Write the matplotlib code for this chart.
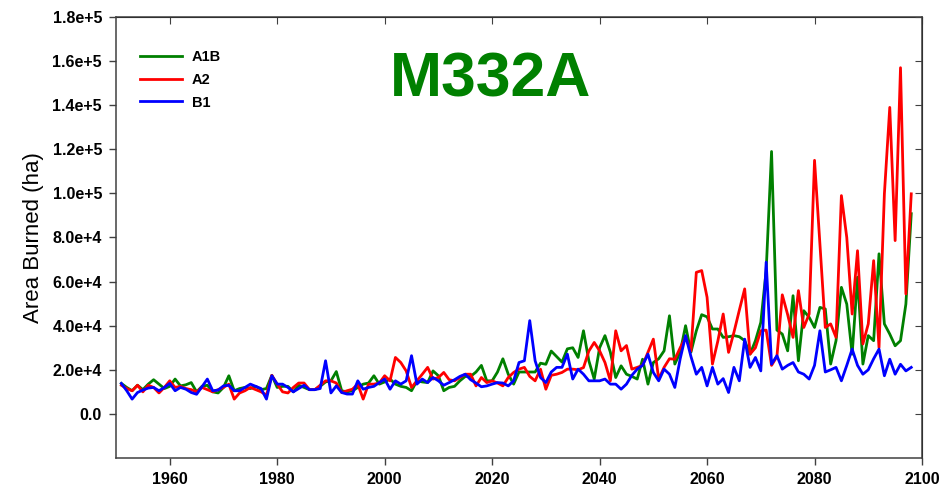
import numpy as np
import matplotlib
matplotlib.use("Agg")
import matplotlib.pyplot as plt
from matplotlib.ticker import FuncFormatter

plt.rcParams['font.family'] = ['Liberation Sans', 'DejaVu Sans']

# years of the simulation
years = np.arange(1951, 2099)

# area burned, thousands of ha (one row per decade)
a1b = [
    13.8, 12.0, 10.5, 13.0, 11.0, 13.5, 15.5, 13.5, 11.5, 12.5,
    15.8, 12.7, 13.2, 14.2, 10.0, 12.5, 13.0, 10.0, 9.5, 12.0,
    17.3, 10.5, 11.5, 12.0, 11.5, 12.5, 11.0, 11.5, 17.5, 12.0,
    12.5, 12.5, 10.0, 13.0, 12.0, 11.0, 11.0, 12.5, 14.5, 15.0,
    19.2, 10.5, 10.0, 10.5, 12.0, 13.5, 14.0, 17.3, 13.5, 14.5,
    15.8, 13.5, 12.5, 12.0, 10.5, 15.0, 14.5, 14.2, 19.5, 17.3,
    10.5, 12.0, 12.5, 15.0, 17.0, 17.0, 19.0, 22.0, 15.0, 15.0,
    19.0, 25.0, 18.0, 13.5, 19.0, 19.0, 19.0, 19.0, 23.0, 22.5,
    28.5, 26.0, 23.5, 29.5, 30.0, 25.6, 37.7, 24.1, 15.8, 30.0,
    35.5, 28.0, 16.5, 21.8, 18.0, 17.0, 15.8, 24.8, 13.5, 23.3,
    25.0, 28.6, 44.5, 22.6, 28.0, 40.0, 28.0, 37.7, 45.0, 44.0,
    38.5, 38.5, 34.7, 35.0, 35.5, 35.0, 33.2, 27.1, 33.2, 41.5,
    65.0, 119.0, 38.0, 36.2, 28.6, 53.6, 24.1, 46.8, 43.8, 39.2,
    48.3, 47.6, 22.6, 33.2, 57.4, 49.8, 27.1, 62.0, 22.6, 35.5,
    33.2, 72.6, 40.8, 36.2, 30.9, 33.2, 49.8, 90.8,
]

a2 = [
    13.0, 11.5, 10.5, 13.0, 10.0, 13.0, 12.0, 9.5, 12.0, 15.0,
    12.0, 12.5, 11.5, 11.0, 10.0, 12.0, 11.0, 10.0, 11.0, 12.0,
    13.5, 6.7, 9.5, 10.5, 12.0, 11.0, 10.0, 8.5, 17.5, 13.5,
    10.0, 9.5, 12.0, 14.0, 14.0, 11.0, 11.0, 13.0, 15.0, 15.0,
    14.0, 9.7, 10.5, 11.2, 13.5, 6.7, 13.5, 13.5, 14.0, 17.3,
    15.0, 25.6, 23.3, 19.5, 12.0, 15.0, 18.0, 21.1, 15.8, 16.5,
    18.8, 15.5, 15.0, 16.5, 18.0, 18.0, 12.7, 16.5, 14.2, 15.0,
    14.0, 12.7, 16.5, 18.8, 20.3, 21.1, 17.0, 15.0, 20.3, 11.2,
    17.5, 18.0, 18.8, 20.3, 20.3, 20.0, 21.0, 28.5, 32.4, 28.6,
    23.3, 15.0, 37.7, 28.6, 31.0, 20.3, 21.1, 22.0, 28.0, 33.9,
    15.8, 21.1, 25.0, 24.8, 30.0, 34.7, 28.6, 64.2, 65.0, 52.9,
    22.6, 33.0, 45.3, 27.9, 37.0, 47.0, 56.7, 27.1, 30.0, 37.7,
    38.0, 22.0, 26.0, 54.0, 45.0, 34.7, 55.9, 39.2, 45.3, 115.0,
    77.0, 39.2, 40.8, 34.7, 99.0, 80.0, 45.3, 74.0, 31.7, 40.8,
    69.5, 30.1, 99.8, 139.0, 78.6, 157.0, 54.4, 99.8,
]

b1 = [
    13.8, 10.5, 6.7, 9.7, 10.8, 11.7, 12.0, 10.5, 12.0, 13.8,
    10.5, 12.0, 11.2, 9.7, 8.9, 12.3, 15.8, 10.5, 10.8, 12.7,
    13.0, 10.5, 10.5, 12.0, 13.5, 12.5, 11.5, 6.7, 17.3, 13.5,
    13.5, 12.0, 10.0, 11.5, 13.0, 11.0, 11.0, 11.5, 24.1, 9.5,
    12.7, 9.7, 9.0, 9.0, 15.0, 11.2, 12.0, 12.5, 14.2, 15.8,
    11.2, 15.0, 13.5, 15.0, 26.4, 13.5, 15.8, 14.2, 16.5, 15.0,
    13.0, 14.2, 15.5, 17.0, 18.0, 15.5, 14.0, 12.3, 12.7, 13.5,
    14.2, 14.0, 12.7, 15.0, 23.3, 24.1, 42.3, 24.1, 16.5, 14.2,
    19.0, 21.1, 21.1, 27.1, 15.8, 20.3, 18.0, 15.0, 15.0, 15.0,
    15.8, 13.5, 13.5, 11.2, 13.5, 17.5, 20.3, 22.0, 27.1, 18.8,
    15.0, 20.3, 18.0, 12.0, 25.0, 35.5, 26.0, 18.0, 21.1, 12.7,
    21.1, 13.5, 16.0, 9.7, 21.1, 15.0, 33.9, 21.1, 25.6, 19.5,
    68.8, 22.6, 26.4, 20.3, 22.0, 23.3, 19.0, 18.0, 15.8, 22.0,
    37.7, 19.0, 20.0, 21.1, 15.0, 22.0, 29.4, 22.0, 18.0, 20.0,
    25.0, 29.4, 17.3, 24.8, 18.0, 22.5, 19.5, 21.1,
]

labels = ['A1B', 'A2', 'B1']
colors = ['#008000', '#ff0000', '#0000ff']
xticks = np.arange(1960, 2101, 20)
yticks = np.arange(0, 180001, 20000)


def sci(v, pos):
    if v == 0:
        return '0.0'
    exp = int(np.floor(np.log10(abs(v))))
    return f'{v / 10**exp:.1f}e+{exp}'


fig = plt.figure(figsize=(9.41, 4.87), dpi=100)
ax = fig.add_axes([116 / 941, 29 / 487, 806 / 941, 441 / 487])

for series, lab, col in zip([a1b, a2, b1], labels, colors):
    ax.plot(years, np.array(series) * 1000, color=col, lw=2.0, label=lab)

ax.set_xlim(1950, 2100)
ax.set_ylim(-20000, 180000)
ax.set_xticks(xticks)
ax.set_yticks(yticks)
ax.yaxis.set_major_formatter(FuncFormatter(sci))

for s in ax.spines.values():
    s.set_color('#404040')
    s.set_linewidth(1.1)
ax.tick_params(axis='both', direction='out', length=5, width=1,
               color='#404040', labelsize=11.5, pad=5)
for lbl in ax.get_xticklabels() + ax.get_yticklabels():
    lbl.set_fontweight('bold')

# mirrored ticks on top/right point inward
top = ax.secondary_xaxis('top')
top.set_xticks(xticks)
top.tick_params(direction='in', length=5, color='#404040', labeltop=False)
right = ax.secondary_yaxis('right')
right.set_yticks(yticks)
right.tick_params(direction='in', length=5, color='#404040', labelright=False)

ax.set_ylabel('Area Burned (ha)', fontsize=16, labelpad=6)

ax.text(0.465, 0.857, 'M332A', transform=ax.transAxes, ha='center', va='center',
        fontsize=45, fontweight='bold', color='#008000')

ax.legend(loc='upper left', bbox_to_anchor=(0.03, 0.925), frameon=False,
          borderaxespad=0, borderpad=0, handlelength=2.9, handletextpad=0.65,
          labelspacing=0.6, prop={'weight': 'bold', 'size': 10.5})

fig.savefig('out.png', dpi=100)
